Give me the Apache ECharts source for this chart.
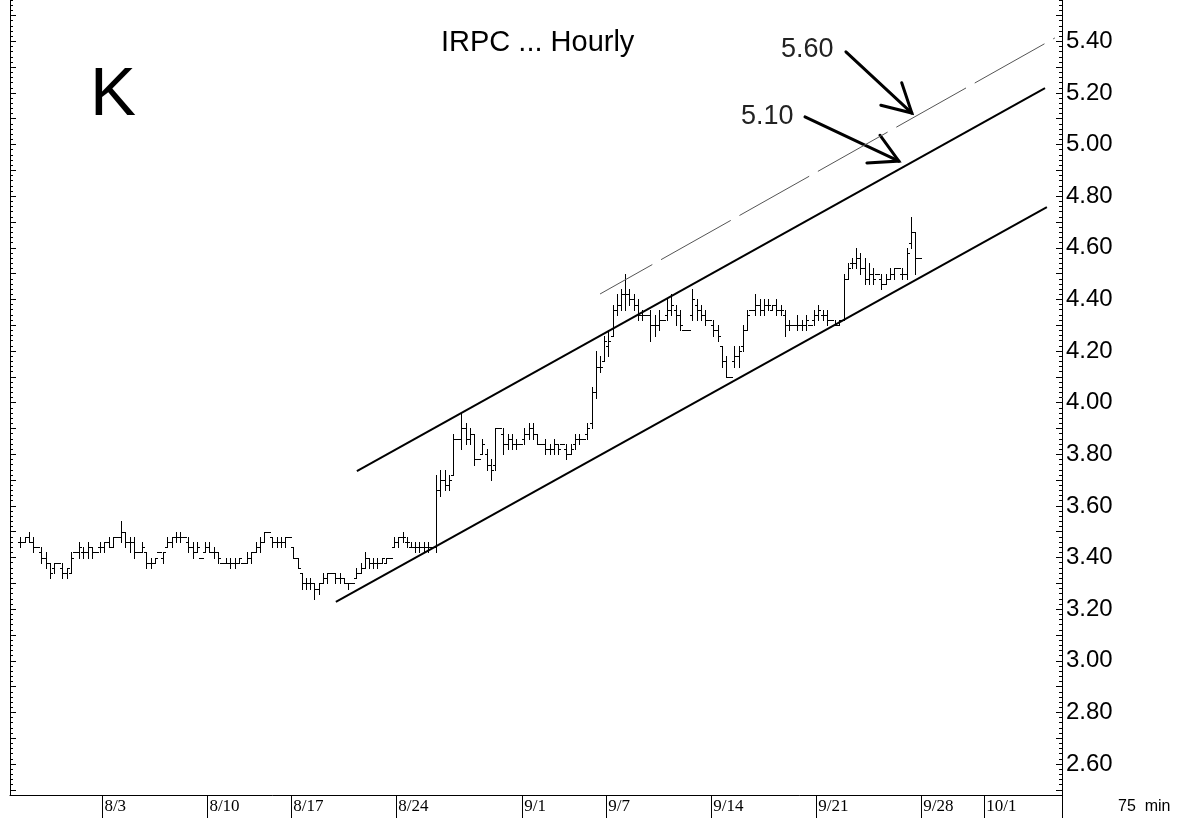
<!DOCTYPE html>
<html>
<head>
<meta charset="utf-8">
<script src="https://cdn.jsdelivr.net/npm/echarts@6/dist/echarts.min.js"></script>
<style>
html,body{margin:0;padding:0;background:#fff;}
#chart{width:1181px;height:818px;}
</style>
</head>
<body>
<div id="chart"></div>
<script>
// ---- data (75-min bars, 5 per trading day) ----
const barsPerDay = 5;
const barOpen = [
3.46,3.46,3.48,3.46,3.44,3.42,3.40,3.38,3.36,3.38,
3.36,3.34,3.34,3.42,3.42,3.42,3.42,3.44,3.42,3.44,
3.44,3.46,3.44,3.48,3.48,3.50,3.46,3.46,3.42,3.42,
3.42,3.38,3.38,3.42,3.40,3.44,3.46,3.48,3.48,3.48,
3.46,3.44,3.42,3.40,3.42,3.44,3.42,3.42,3.38,3.38,
3.38,3.38,3.38,3.38,3.38,3.40,3.42,3.44,3.46,3.50,
3.48,3.46,3.46,3.46,3.48,3.44,3.40,3.34,3.30,3.30,
3.30,3.28,3.30,3.32,3.34,3.34,3.32,3.32,3.30,3.30,
3.32,3.34,3.36,3.40,3.38,3.38,3.38,3.38,3.40,3.44,
3.46,3.48,3.46,3.44,3.44,3.44,3.44,3.44,3.44,3.44,
3.66,3.70,3.68,3.72,3.86,3.86,3.90,3.86,3.88,3.78,
3.80,3.80,3.76,3.76,3.90,3.88,3.84,3.86,3.84,3.84,
3.86,3.88,3.90,3.88,3.84,3.84,3.82,3.82,3.84,3.84,
3.82,3.80,3.84,3.86,3.86,3.88,3.92,4.04,4.14,4.16,
4.22,4.26,4.36,4.38,4.42,4.42,4.40,4.38,4.34,4.34,
4.34,4.30,4.30,4.32,4.34,4.36,4.36,4.34,4.28,4.28,
4.34,4.38,4.36,4.34,4.32,4.30,4.28,4.22,4.16,4.10,
4.16,4.18,4.22,4.28,4.36,4.36,4.38,4.36,4.38,4.36,
4.38,4.36,4.34,4.30,4.30,4.30,4.30,4.30,4.30,4.32,
4.34,4.34,4.34,4.32,4.30,4.30,4.32,4.48,4.54,4.54,
4.56,4.52,4.48,4.50,4.50,4.48,4.46,4.48,4.50,4.52,
4.50,4.50,4.62,4.66,4.56
];
const barHigh = [
3.48,3.48,3.50,3.48,3.44,3.44,3.42,3.38,3.38,3.38,
3.38,3.36,3.42,3.42,3.46,3.44,3.46,3.44,3.42,3.46,
3.46,3.48,3.48,3.48,3.54,3.50,3.48,3.48,3.42,3.46,
3.42,3.40,3.40,3.42,3.42,3.48,3.48,3.50,3.50,3.48,
3.48,3.46,3.46,3.40,3.46,3.46,3.44,3.42,3.38,3.40,
3.40,3.40,3.40,3.38,3.42,3.42,3.46,3.48,3.50,3.50,
3.48,3.48,3.48,3.48,3.48,3.44,3.40,3.34,3.32,3.32,
3.30,3.30,3.34,3.34,3.34,3.34,3.34,3.32,3.30,3.30,
3.36,3.38,3.42,3.40,3.40,3.40,3.40,3.40,3.40,3.48,
3.48,3.50,3.48,3.46,3.46,3.46,3.46,3.46,3.44,3.72,
3.74,3.74,3.72,3.88,3.86,3.96,3.92,3.90,3.88,3.78,
3.86,3.82,3.78,3.90,3.90,3.90,3.88,3.88,3.86,3.84,
3.90,3.92,3.92,3.88,3.84,3.86,3.84,3.86,3.84,3.84,
3.84,3.84,3.88,3.88,3.86,3.92,4.06,4.20,4.18,4.26,
4.28,4.38,4.42,4.44,4.50,4.44,4.42,4.40,4.36,4.34,
4.36,4.34,4.36,4.32,4.40,4.42,4.38,4.36,4.28,4.28,
4.44,4.40,4.38,4.36,4.32,4.32,4.30,4.22,4.18,4.10,
4.22,4.22,4.30,4.36,4.36,4.42,4.40,4.40,4.40,4.38,
4.40,4.38,4.36,4.32,4.30,4.34,4.32,4.34,4.30,4.36,
4.38,4.36,4.36,4.32,4.32,4.32,4.50,4.54,4.56,4.60,
4.58,4.56,4.54,4.52,4.50,4.50,4.50,4.52,4.52,4.52,
4.52,4.60,4.72,4.66,4.56
];
const barLow = [
3.44,3.46,3.46,3.42,3.44,3.38,3.36,3.32,3.34,3.38,
3.32,3.32,3.34,3.42,3.40,3.40,3.40,3.40,3.42,3.42,
3.42,3.44,3.44,3.48,3.46,3.44,3.42,3.40,3.42,3.42,
3.36,3.36,3.38,3.42,3.38,3.44,3.44,3.46,3.46,3.48,
3.42,3.40,3.42,3.40,3.42,3.42,3.40,3.38,3.38,3.38,
3.36,3.36,3.38,3.38,3.38,3.38,3.42,3.42,3.46,3.50,
3.44,3.44,3.44,3.44,3.48,3.40,3.36,3.28,3.28,3.28,
3.24,3.26,3.30,3.30,3.34,3.30,3.30,3.30,3.28,3.30,
3.32,3.34,3.36,3.36,3.36,3.36,3.38,3.38,3.40,3.44,
3.44,3.46,3.44,3.44,3.42,3.42,3.42,3.42,3.44,3.42,
3.64,3.66,3.66,3.72,3.86,3.82,3.84,3.84,3.76,3.78,
3.80,3.74,3.70,3.74,3.90,3.80,3.82,3.82,3.82,3.84,
3.84,3.86,3.86,3.84,3.84,3.80,3.80,3.80,3.80,3.84,
3.78,3.80,3.82,3.84,3.86,3.86,3.90,4.02,4.12,4.16,
4.18,4.26,4.34,4.36,4.36,4.38,4.36,4.32,4.32,4.34,
4.24,4.26,4.28,4.32,4.32,4.34,4.30,4.28,4.28,4.28,
4.32,4.32,4.32,4.30,4.32,4.26,4.24,4.14,4.10,4.10,
4.14,4.14,4.20,4.28,4.36,4.34,4.34,4.34,4.36,4.36,
4.34,4.34,4.26,4.28,4.30,4.28,4.28,4.28,4.30,4.30,
4.32,4.32,4.30,4.32,4.30,4.30,4.32,4.48,4.52,4.52,
4.50,4.46,4.46,4.46,4.50,4.44,4.46,4.48,4.48,4.52,
4.48,4.48,4.60,4.50,4.56
];
const barClose = [
3.46,3.48,3.46,3.44,3.44,3.40,3.38,3.34,3.38,3.38,
3.34,3.36,3.40,3.42,3.44,3.42,3.44,3.42,3.42,3.44,
3.46,3.44,3.48,3.48,3.50,3.46,3.46,3.42,3.42,3.44,
3.38,3.38,3.40,3.42,3.42,3.46,3.48,3.48,3.48,3.48,
3.44,3.42,3.44,3.40,3.44,3.42,3.42,3.40,3.38,3.38,
3.38,3.38,3.40,3.38,3.40,3.42,3.44,3.46,3.50,3.50,
3.46,3.46,3.46,3.48,3.48,3.40,3.36,3.30,3.30,3.30,
3.28,3.30,3.32,3.34,3.34,3.32,3.32,3.30,3.30,3.30,
3.34,3.36,3.40,3.38,3.38,3.38,3.40,3.40,3.40,3.46,
3.48,3.48,3.46,3.44,3.44,3.44,3.44,3.44,3.44,3.66,
3.70,3.68,3.70,3.86,3.86,3.90,3.86,3.88,3.78,3.78,
3.84,3.76,3.74,3.90,3.90,3.84,3.86,3.84,3.84,3.84,
3.88,3.90,3.88,3.84,3.84,3.82,3.82,3.84,3.82,3.84,
3.80,3.82,3.86,3.86,3.86,3.90,4.04,4.14,4.14,4.24,
4.24,4.36,4.38,4.42,4.42,4.40,4.38,4.34,4.34,4.34,
4.30,4.30,4.32,4.32,4.36,4.38,4.34,4.30,4.28,4.28,
4.40,4.36,4.34,4.32,4.32,4.28,4.26,4.16,4.10,4.10,
4.18,4.20,4.28,4.34,4.36,4.38,4.36,4.38,4.38,4.38,
4.36,4.36,4.30,4.30,4.30,4.30,4.30,4.32,4.30,4.34,
4.36,4.34,4.32,4.32,4.30,4.32,4.48,4.52,4.54,4.56,
4.52,4.48,4.50,4.48,4.50,4.46,4.48,4.50,4.52,4.52,
4.50,4.58,4.66,4.56,4.56
];
// date labels and the trading-day index on which each week starts
const dateLabels = ['8/3','8/10','8/17','8/24','9/1','9/7','9/14','9/21','9/28','10/1'];
const dateDays   = [4, 9, 13, 18, 24, 28, 33, 38, 43, 46];
const yTickLabels = ['2.60','2.80','3.00','3.20','3.40','3.60','3.80','4.00','4.20','4.40','4.60','4.80','5.00','5.20','5.40'];
// trend lines [day, price]
const channelUpper = [[16.12, 3.735], [48.89, 5.219]];
const channelLower = [[15.12, 3.228], [48.98, 4.758]];
const target560Line = [[27.70, 4.421], [49.36, 5.413]];
// annotation arrows [fromDay, fromPrice, toDay, toPrice]
const arrows = [[39.41, 5.359, 42.55, 5.122], [37.46, 5.107, 41.93, 4.936]];

const X_MIN = -0.4, X_MAX = 49.7, Y_MIN = 2.48, Y_MAX = 5.56;
const SANS = 'Liberation Sans, Arial, sans-serif';

const ohlc = barOpen.map((o, i) => [
  Math.floor(i / barsPerDay) + ((i % barsPerDay) + 0.5) / barsPerDay,
  o, barHigh[i], barLow[i], barClose[i]
]);

function ticks(step) {
  const out = [];
  const n0 = Math.ceil(Y_MIN / step - 1e-9), n1 = Math.floor(Y_MAX / step + 1e-9);
  for (let n = n0; n <= n1; n++) out.push(+(n * step).toFixed(2));
  return out;
}
const minorTicks = ticks(0.02);
const majorTicks = ticks(0.1);
const labelVals = yTickLabels.map(Number);

const chart = echarts.init(document.getElementById('chart'), null, {renderer: 'canvas'});

function yAx(position, tickVals, len, showLine, showLabel) {
  return {
    type: 'value', min: Y_MIN, max: Y_MAX, position: position, offset: 0,
    axisLine: {show: showLine, onZero: false, lineStyle: {color: '#000', width: 1}},
    axisTick: {show: true, inside: true, length: len, customValues: tickVals, lineStyle: {color: '#000', width: 1}},
    axisLabel: showLabel ? {
      show: true, customValues: labelVals, margin: 4,
      formatter: v => yTickLabels[labelVals.indexOf(+(+v).toFixed(2))] || (+v).toFixed(2),
      color: '#000', fontSize: 24, fontFamily: SANS
    } : {show: false},
    splitLine: {show: false}
  };
}

const option = {
  animation: false,
  backgroundColor: '#fff',
  grid: {left: 10, right: 119, top: 0, bottom: 23, containLabel: false},
  xAxis: {
    type: 'value', min: X_MIN, max: X_MAX,
    axisLine: {show: true, onZero: false, lineStyle: {color: '#000', width: 1}},
    axisTick: {show: true, inside: false, length: 23, customValues: dateDays.concat([X_MAX]), lineStyle: {color: '#000', width: 1}},
    axisLabel: {
      show: true, customValues: dateDays, margin: 3, align: 'left', padding: [0, 0, 0, 2],
      formatter: v => dateLabels[dateDays.indexOf(Math.round(v))],
      color: '#000', fontSize: 17, fontFamily: 'Liberation Serif, serif'
    },
    splitLine: {show: false}
  },
  yAxis: [
    yAx('right', minorTicks, 3, true, true),
    yAx('right', majorTicks, 6, false, false),
    yAx('left', minorTicks, 3, true, false),
    yAx('left', majorTicks, 6, false, false)
  ],
  series: [
    {
      type: 'custom', name: 'IRPC', xAxisIndex: 0, yAxisIndex: 0, silent: true,
      data: ohlc, encode: {x: 0, y: [1, 2, 3, 4]}, clip: true,
      renderItem: function (params, api) {
        const x = api.value(0);
        const pO = api.coord([x, api.value(1)]);
        const pH = api.coord([x, api.value(2)]);
        const pL = api.coord([x, api.value(3)]);
        const pC = api.coord([x, api.value(4)]);
        const cx = Math.round(pH[0]);
        const yH = Math.round(pH[1]), yL = Math.round(pL[1]);
        const st = {fill: '#000'};
        return {
          type: 'group', children: [
            {type: 'rect', shape: {x: cx, y: yH, width: 1, height: Math.max(1, yL - yH + 1)}, style: st},
            {type: 'rect', shape: {x: cx - 2, y: Math.round(pO[1]), width: 2, height: 1}, style: st},
            {type: 'rect', shape: {x: cx + 1, y: Math.round(pC[1]), width: 2, height: 1}, style: st}
          ]
        };
      }
    },
    {type: 'line', data: channelUpper, symbol: 'none', silent: true, lineStyle: {color: '#000', width: 2}},
    {type: 'line', data: channelLower, symbol: 'none', silent: true, lineStyle: {color: '#000', width: 2}},
    {type: 'line', data: target560Line, symbol: 'none', silent: true, lineStyle: {color: '#555', width: 1, type: [80, 10], dashOffset: 20}},
    {
      type: 'custom', silent: true, data: arrows, encode: {x: [0, 2], y: [1, 3]},
      renderItem: function (params, api) {
        const p1 = api.coord([api.value(0), api.value(1)]);
        const p2 = api.coord([api.value(2), api.value(3)]);
        const ang = Math.atan2(p2[1] - p1[1], p2[0] - p1[0]);
        const L = 32, spread = 0.5;
        const h1 = [p2[0] - L * Math.cos(ang - spread), p2[1] - L * Math.sin(ang - spread)];
        const h2 = [p2[0] - L * Math.cos(ang + spread), p2[1] - L * Math.sin(ang + spread)];
        const st = {stroke: '#000', lineWidth: 3, fill: null, lineCap: 'round'};
        return {
          type: 'group', children: [
            {type: 'line', shape: {x1: p1[0], y1: p1[1], x2: p2[0], y2: p2[1]}, style: st},
            {type: 'polyline', shape: {points: [h1, p2, h2]}, style: st}
          ]
        };
      }
    }
  ],
  graphic: [
    {type: 'text', left: 441, top: 28, style: {text: 'IRPC ... Hourly', fontSize: 29, fontFamily: SANS, fill: '#000'}},
    {type: 'text', left: 90, top: 61, style: {text: 'K', fontSize: 69, fontFamily: SANS, fill: '#000'}},
    {type: 'text', left: 781, top: 36, style: {text: '5.60', fontSize: 27, fontFamily: SANS, fill: '#222'}},
    {type: 'text', left: 741, top: 103, style: {text: '5.10', fontSize: 27, fontFamily: SANS, fill: '#222'}},
    {type: 'text', left: 1118, top: 799, style: {text: '75  min', fontSize: 16, fontFamily: SANS, fill: '#000'}}
  ]
};
chart.setOption(option);
</script>
</body>
</html>
